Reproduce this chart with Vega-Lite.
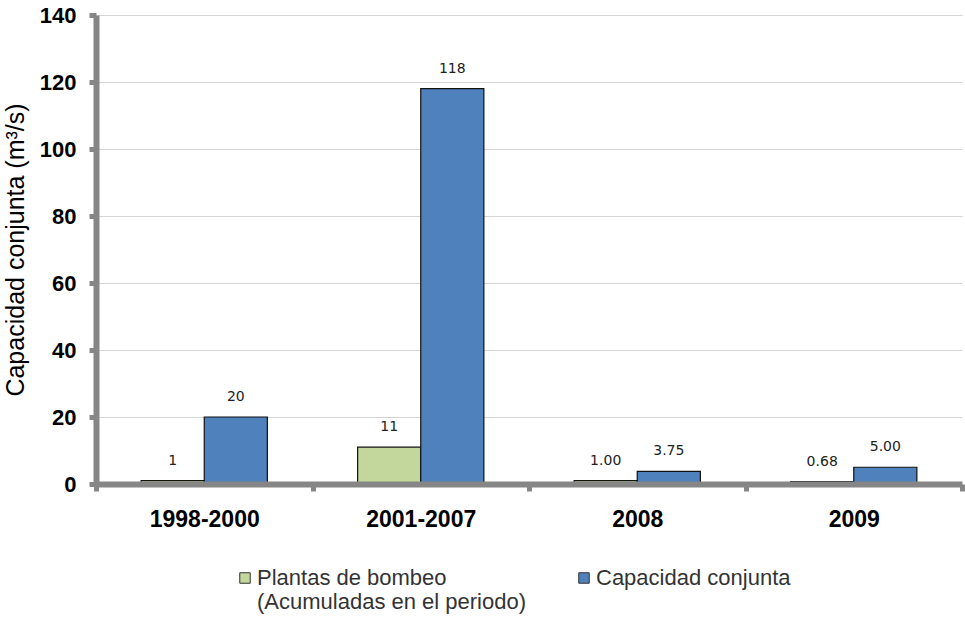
{
  "$schema": "https://vega.github.io/schema/vega-lite/v6.json",
  "autosize": "none",
  "width": 866,
  "height": 469,
  "padding": {"left": 96, "top": 15, "right": 3, "bottom": 137},
  "background": "white",
  "config": {
    "view": {"stroke": null},
    "font": "Liberation Sans"
  },
  "data": {
    "values": [
      {"period": "1998-2000", "series": "Plantas de bombeo|(Acumuladas en el periodo)", "value": 1, "label": "1"},
      {"period": "1998-2000", "series": "Capacidad conjunta", "value": 20, "label": "20"},
      {"period": "2001-2007", "series": "Plantas de bombeo|(Acumuladas en el periodo)", "value": 11, "label": "11"},
      {"period": "2001-2007", "series": "Capacidad conjunta", "value": 118, "label": "118"},
      {"period": "2008", "series": "Plantas de bombeo|(Acumuladas en el periodo)", "value": 1.0, "label": "1.00"},
      {"period": "2008", "series": "Capacidad conjunta", "value": 3.75, "label": "3.75"},
      {"period": "2009", "series": "Plantas de bombeo|(Acumuladas en el periodo)", "value": 0.68, "label": "0.68"},
      {"period": "2009", "series": "Capacidad conjunta", "value": 5.0, "label": "5.00"}
    ]
  },
  "encoding": {
    "x": {
      "field": "period", "type": "nominal", "sort": null,
      "scale": {"paddingInner": 0, "paddingOuter": 0},
      "axis": {
        "title": null, "labelAngle": 0, "labelFont": "Liberation Sans", "labelFontSize": 23,
        "labelFontWeight": "bold", "labelColor": "#000000", "labelPadding": 17,
        "domainColor": "#868686", "domainWidth": 6, "tickColor": "#868686", "tickWidth": 5,
        "tickSize": 7, "tickBand": "extent", "zindex": 1, "grid": false
      }
    },
    "xOffset": {
      "field": "series", "type": "nominal", "sort": null,
      "scale": {"paddingInner": 0, "paddingOuter": 0.715}
    },
    "y": {
      "field": "value", "type": "quantitative",
      "scale": {"domain": [0, 140], "nice": false},
      "axis": {
        "title": "Capacidad conjunta (m³/s)", "titleFont": "Liberation Sans", "titleFontSize": 25,
        "titleFontWeight": "normal", "titleColor": "#000000", "titlePadding": 11,
        "values": [0, 20, 40, 60, 80, 100, 120, 140],
        "labelFont": "Liberation Sans", "labelFontSize": 22, "labelFontWeight": "bold",
        "labelColor": "#000000", "labelPadding": 13,
        "domainColor": "#868686", "domainWidth": 6, "tickColor": "#868686", "tickWidth": 5,
        "tickSize": 7, "gridColor": "#D4D4D4", "gridWidth": 1.2, "zindex": 0
      }
    }
  },
  "layer": [
    {
      "mark": {"type": "bar", "stroke": "#111111", "strokeWidth": 1.2},
      "encoding": {
        "color": {
          "field": "series", "type": "nominal", "sort": null,
          "scale": {"range": ["#C3D69B", "#4F81BD"]},
          "legend": {
            "title": null, "orient": "none", "legendX": 138, "legendY": 552,
            "direction": "horizontal", "symbolType": "square", "symbolSize": 110,
            "symbolStrokeColor": "#333333", "symbolStrokeWidth": 1,
            "labelFont": "Liberation Sans", "labelFontSize": 22, "labelColor": "#333333",
            "labelExpr": "datum.label == 'Capacidad conjunta' ? split('Capacidad conjunta| ', '|') : split(datum.label, '|')",
            "labelLimit": 400, "labelOffset": 1,
            "columnPadding": 46, "labelBaseline": "middle"
          }
        }
      }
    },
    {
      "mark": {"type": "text", "dy": -20, "fontSize": 14, "font": "DejaVu Sans", "color": "#222222"},
      "encoding": {"text": {"field": "label"}}
    }
  ]
}
